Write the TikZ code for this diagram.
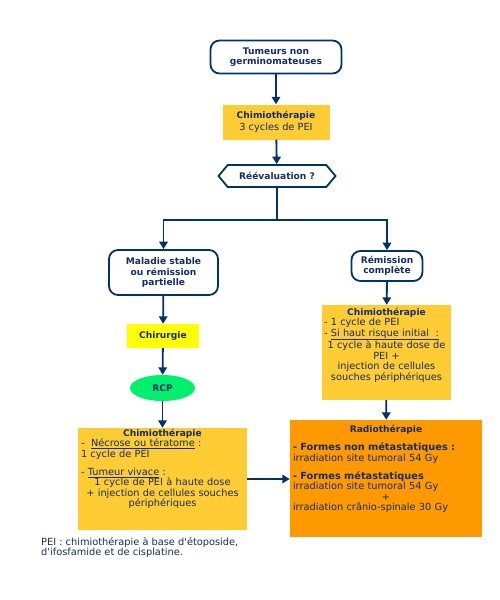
\documentclass[tikz,border=0pt]{standalone}
\usepackage{fontspec}
\setmainfont{DejaVu Sans}[Ligatures=TeXOff]
\usepackage{xcolor}
\usetikzlibrary{positioning, arrows.meta, shapes.geometric, shapes.symbols}
\definecolor{navyline}{RGB}{0, 51, 102}
\definecolor{navytext}{RGB}{20, 45, 100}
\definecolor{chimioyellow}{RGB}{255, 204, 51}
\definecolor{chiryellow}{RGB}{255, 255, 0}
\definecolor{rcpgreen}{RGB}{0, 240, 110}
\definecolor{radioorange}{RGB}{255, 153, 0}
\newcommand\txtfont{\fontsize{9.8}{10.4}\selectfont}
\newcommand\ttlfont{\fontsize{9.1}{10.4}\selectfont\bfseries}
\newcommand\ctrline[1]{\makebox[\hsize]{#1}}
\tikzset{
    flowarrow/.style={-{Triangle[length=7.5pt,width=8.5pt]}, line width=1.8pt, draw=navyline},
    roundbox/.style={rectangle, rounded corners=9pt, draw=navyline, line width=1.8pt, fill=white, text=navytext, font=\ttlfont, align=center, inner sep=1pt},
    chimiobox/.style={rectangle, fill=chimioyellow, text=navytext, align=center, inner sep=1pt},
    boxtext/.style={text=navytext, font=\txtfont, align=left, inner sep=0pt}
}

\begin{document}
\begin{tikzpicture}[x=1pt, y=-1pt]
    \useasboundingbox (0,0) rectangle (500,600);

    % top of the chart
    \node[roundbox, minimum width=131pt, minimum height=33pt] (tumeurs) at (276,57) {Tumeurs non\\germinomateuses};
    \node[chimiobox, minimum width=107pt, minimum height=35pt] (chimio1) at (276,122)
        {{\ttlfont Chimiothérapie}\\{\txtfont 3 cycles de PEI}};
    \node[signal, signal to=west and east, signal pointer angle=100, draw=navyline, line width=1.8pt,
        minimum width=117pt, minimum height=22pt, inner sep=1pt, font=\ttlfont, text=navytext] (reeval) at (277,176) {Réévaluation ?};
    \coordinate (split) at (277,220);

    % left branch
    \node[roundbox, minimum width=109pt, minimum height=45pt] (maladie) at (163.5,272.5) {Maladie stable\\ou rémission\\partielle};
    \node[rectangle, fill=chiryellow, text=navytext, font=\ttlfont, minimum width=72pt, minimum height=24pt] (chirurgie) at (163,336) {Chirurgie};
    \node[ellipse, fill=rcpgreen, text=navytext, font=\ttlfont, minimum width=65pt, minimum height=26pt, inner sep=0pt] (rcp) at (162.5,388) {RCP};
    \node[chimiobox, minimum width=169pt, minimum height=102pt] (chimioG) at (162.5,479) {};
    \node[boxtext, text width=163pt, anchor=north] at ([yshift=-1pt]chimioG.north) {%
        \ctrline{\ttlfont Chimiothérapie}\\
        -\ \ \underline{Nécrose ou tératome} :\\
        1 cycle de PEI\\[8pt]
        - \underline{Tumeur vivace} :\\
        \ctrline{1 cycle de PEI à haute dose}\\
        \ctrline{+ injection de cellules souches}\\
        \ctrline{périphériques}};

    % right branch
    \node[roundbox, minimum width=71pt, minimum height=30pt] (remission) at (387,266) {Rémission\\complète};
    \node[chimiobox, minimum width=129pt, minimum height=95pt] (chimioD) at (386.5,352.5) {};
    \node[boxtext, text width=125pt, anchor=north] at ([yshift=-3pt]chimioD.north) {%
        \ctrline{\ttlfont Chimiothérapie}\\
        - 1 cycle de PEI\\
        - \underline{Si haut risque initial\ \ :}\\
        \ctrline{1 cycle à haute dose de}\\
        \ctrline{PEI +}\\
        \ctrline{injection de cellules}\\
        \ctrline{souches périphériques}};
    \node[rectangle, fill=radioorange, minimum width=192pt, minimum height=117pt] (radio) at (386,478.5) {};
    \node[boxtext, text width=186pt, anchor=north] at ([yshift=-5pt]radio.north) {%
        \ctrline{\ttlfont Radiothérapie}\\[8pt]
        \textbf{- Formes non métastatiques :}\\
        irradiation site tumoral 54 Gy\\[8pt]
        \textbf{- Formes métastatiques}\\
        irradiation site tumoral 54 Gy\\
        \ctrline{+}\\
        irradiation crânio-spinale 30 Gy};

    % legend
    \node[boxtext, anchor=north west] (legende) at (41,537) {PEI : chimiothérapie à base d'étoposide,\\d'ifosfamide et de cisplatine.};

    % connectors
    \draw[flowarrow] (tumeurs) -- (chimio1);
    \draw[flowarrow] (chimio1) -- (reeval);
    \draw[flowarrow] (reeval.south) -- (split) -| (maladie.north);
    \draw[flowarrow] (split) -| (remission.north);
    \draw[flowarrow] (maladie) -- (chirurgie);
    \draw[flowarrow] (chirurgie) -- (rcp);
    \draw[flowarrow] (rcp) -- (chimioG);
    \draw[flowarrow] (remission) -- (chimioD);
    \draw[flowarrow] (chimioD) -- (radio);
    \draw[flowarrow] (chimioG.east) -- (radio.west |- chimioG.east);
\end{tikzpicture}
\end{document}
